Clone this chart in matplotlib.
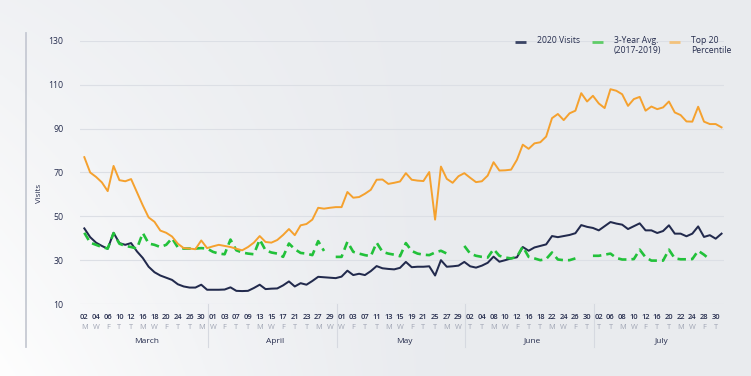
import numpy as np
import matplotlib
matplotlib.use('Agg')
import matplotlib.pyplot as plt
from matplotlib.lines import Line2D

plt.rcParams['font.family'] = ['Open Sans', 'DejaVu Sans']

# weekday values, 2 Mar - 31 Jul 2020 (22 points per month block)
visits_2020 = [
    44.5, 40.5, 38, 36.5, 35.2, 42.5, 37.8, 37, 37.8, 34, 31, 27, 24.5, 23, 22, 21, 19, 18, 17.5, 17.5, 18.8, 16.5,
    16.5, 16.5, 16.6, 17.6, 16, 15.9, 16, 17.3, 18.8, 16.8, 17, 17.1, 18.5, 20.3, 18, 19.5, 18.8, 20.5, 22.4, 22.2, 22, 21.8,
    22.5, 25.2, 23.2, 23.8, 23.2, 25, 27.3, 26.3, 26, 25.8, 26.5, 29.2, 26.8, 27, 27, 27.2, 23, 30, 27, 27.2, 27.5,
    29.2, 27.2, 26.6, 27.5, 28.8, 31.6, 29.3, 30, 30.8, 31.3, 36, 34.3, 35.8, 36.5, 37.2, 41, 40.5, 41, 41.5, 42.3, 46, 45.2,
    44.7, 43.6, 45.5, 47.4, 46.7, 46.2, 44.2, 45.5, 46.8, 43.6, 43.6, 42.4, 43.3, 45.9, 42.1, 42.1, 40.9, 42.1, 45.4, 40.6,
    41.4, 39.8, 42.1,
]
avg_3yr = [
    42.5, 38, 37, 36, 35.3, 42.3, 37.5, 36.5, 36, 35.3, 42.4, 37.6, 37, 36, 37, 40, 35.8, 35.3, 35.3, 35.3, 35.5, 35.3,
    33.8, 33, 32.7, 39.4, 34.5, 33.5, 33, 32.7, 39.4, 34.5, 33.5, 33, 31.5, 37.6, 35, 33.3, 33, 32.3, 38.7, 34.2, np.nan, 31.5,
    31.5, 38.4, 33.8, 33, 32.3, 31.8, 38, 33.8, 33, 32.5, 31.8, 37.8, 34.2, 33, 32.5, 32.3, 33.5, 34.3, 33, np.nan, np.nan,
    36.5, 33, 32, 31.5, 31.2, 35, 32, 31.2, 30.8, 31.5, 36.2, 31.5, 30.8, 30, 30.5, 33.5, 30.3, 30, 30, 30.8, np.nan, np.nan,
    32, 32, 32.5, 33, 31, 30.3, 30.3, 30.5, 34.8, 31.3, 29.8, 29.8, 29.8, 34.8, 30.8, 30.4, 30.4, 30.5, 34.3, 32.5,
    30.3, np.nan, np.nan,
]
top20 = [
    77, 70, 68, 65.5, 61.5, 73, 66.5, 66, 67, 61, 55, 49.5, 47.5, 43.5, 42.5, 40.8, 37.5, 35.5, 35.3, 35, 39, 35.5,
    36.3, 37, 36.5, 36, 35.2, 34.5, 36, 38, 41, 38.3, 38, 39.2, 41.5, 44.2, 41.4, 45.9, 46.5, 48.5, 53.9, 53.5, 53.9, 54.2,
    54.2, 61.1, 58.5, 58.8, 60.3, 62.1, 66.7, 66.8, 64.8, 65.3, 65.9, 69.7, 66.7, 66.3, 66.1, 70.2, 48.5, 72.7, 67.1, 65.3, 68.3,
    69.7, 67.6, 65.6, 66, 68.6, 74.7, 70.9, 71, 71.3, 75.8, 82.7, 80.8, 83.3, 83.8, 86.4, 94.8, 96.7, 93.9, 97, 98.2, 106.2, 102.4,
    105, 101.5, 99.4, 108, 107.3, 105.7, 100.4, 103.5, 104.5, 98.2, 100.1, 98.9, 99.7, 102.4, 97.4, 96.2, 93.3, 93.2, 100, 93.2,
    92.1, 92.1, 90.6,
]

months = ['March', 'April', 'May', 'June', 'July']
day_labels = [
    '02', '04', '06', '10', '12', '16', '18', '20', '24', '26', '30',
    '01', '03', '07', '09', '13', '15', '17', '21', '23', '27', '29',
    '01', '03', '07', '11', '13', '15', '19', '21', '25', '27', '29',
    '02', '04', '08', '10', '12', '16', '18', '22', '24', '26', '30',
    '02', '06', '08', '10', '12', '16', '20', '22', '24', '28', '30',
]
weekday_labels = list('MWFTTMWFTTM' 'WFTTMWFTTMW' 'WFTTMWFTTMW' 'TTMWFTTMWFT' 'TTMWFTTMWFT')
yticks = [10, 30, 50, 70, 90, 110, 130]

NAVY = '#222a4d'
GREEN = '#22c13a'
ORANGE = '#f5a12e'
TXT = '#262d4e'
GRAY_TXT = '#a0a5b4'
GRID = '#dcdfe5'

W, H = 751, 376
fx = lambda px: px / W
fy = lambda py: 1 - py / H

fig = plt.figure(figsize=(W / 100, H / 100), dpi=100)

# soft background: white bottom-left fading into light grey
bg = fig.add_axes([0, 0, 1, 1], zorder=-10)
xx, yy = np.meshgrid(np.linspace(0, 1, 300), np.linspace(0, 1, 150))
w = np.clip(1 - xx / 0.6, 0, 1) ** 1.2 * (0.35 + 0.65 * yy)
base = np.array([0.914, 0.922, 0.937])
img = base[None, None, :] * (1 - w[..., None]) + 0.995 * w[..., None]
bg.imshow(img, aspect='auto', extent=[0, 1, 0, 1])
bg.axis('off')

fig.add_artist(Line2D([fx(26), fx(26)], [fy(33), fy(347)], transform=fig.transFigure,
                      color='#c6cad3', lw=1.3))

ax = fig.add_axes([fx(80), fy(304), fx(644), 263 / H])
ax.set_facecolor('none')
x = np.arange(len(visits_2020))

ax.plot(x, visits_2020, color=NAVY, lw=1.45, zorder=3)
ax.plot(x, avg_3yr, color=GREEN, lw=1.9, ls=(0, (3.2, 1.9)), zorder=4)
ax.plot(x, top20, color=ORANGE, lw=1.4, zorder=5)

ax.set_xlim(-0.74, 109.42)
ax.set_ylim(10, 130)
ax.set_yticks(yticks)
ax.grid(axis='y', color=GRID, lw=0.8)
ax.set_axisbelow(True)
for s in ax.spines.values():
    s.set_visible(False)
ax.tick_params(axis='y', length=0, pad=12, labelsize=6.3, labelcolor=TXT)
ax.set_xticks([])
ax.set_ylabel('Visits', fontsize=5.8, color=TXT)
ax.yaxis.set_label_coords(-0.058, 0.42)

# date / weekday / month labels under the axis
tick_pos = x[::2]
trans = ax.get_xaxis_transform()
for p, d, wd in zip(tick_pos, day_labels, weekday_labels):
    ax.text(p, -0.052, d, transform=trans, ha='center', va='center',
            fontsize=5.4, fontweight='semibold', color=TXT)
    ax.text(p, -0.090, wd, transform=trans, ha='center', va='center',
            fontsize=5.3, color=GRAY_TXT)
for k, m in enumerate(months):
    ax.text(22 * k + 10.7, -0.141, m, transform=trans, ha='center', va='center',
            fontsize=6.0, color=TXT)
    if k > 0:
        ax.plot([22 * k - 0.8] * 2, [0, -0.165], transform=trans, color='#d6d9e0',
                lw=0.8, clip_on=False)

# legend drawn by hand so multi-line labels sit top-aligned
legend_items = [('2020 Visits', '#3a4465', 515),
                ('3-Year Avg.\n(2017-2019)', '#5fcc68', 592),
                ('Top 20\nPercentile', '#f3c27c', 669)]
for label, col, x0 in legend_items:
    fig.add_artist(Line2D([fx(x0), fx(x0 + 11)], [fy(42), fy(42)], transform=fig.transFigure,
                          color=col, lw=2.0, solid_capstyle='butt'))
    fig.text(fx(x0 + 22), fy(36), label, ha='left', va='top', fontsize=6.2,
             color=TXT, linespacing=1.1)

fig.savefig('out.png', dpi=100)
